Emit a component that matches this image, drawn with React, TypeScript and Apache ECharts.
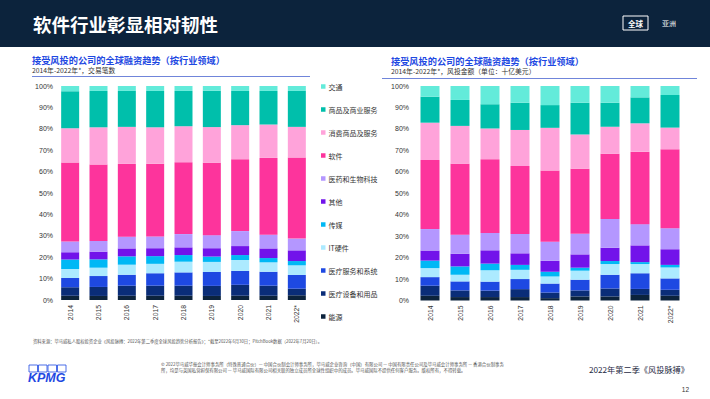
import React, { useEffect, useRef } from "react";
import * as echarts from "echarts";

// ---------- data ----------
const years = ["2014", "2015", "2016", "2017", "2018", "2019", "2020", "2021", "2022*"];
const sectors = ["能源", "医疗设备和用品", "医疗服务和系统", "IT硬件", "传媒", "其他", "医药和生物科技", "软件", "消费商品及服务", "商品及商业服务", "交通"];
const legendOrder = ["交通", "商品及商业服务", "消费商品及服务", "软件", "医药和生物科技", "其他", "传媒", "IT硬件", "医疗服务和系统", "医疗设备和用品", "能源"];
const sectorColors = ["#0c233c", "#0a2d78", "#1e49e2", "#acEAff", "#00b8f5", "#7213ea", "#b497ff", "#fd349c", "#ffa3da", "#00bfab", "#63ebda"];

// deal counts share (%)
const dealsEnergy = [2.0, 1.9, 2.0, 2.0, 2.0, 1.9, 2.0, 2.0, 2.2];
const dealsMedDevices = [3.9, 4.2, 4.7, 4.7, 4.7, 4.7, 5.1, 4.7, 3.1];
const dealsHealthServices = [4.4, 5.1, 5.1, 5.8, 6.2, 6.5, 6.5, 6.5, 6.4];
const dealsITHardware = [4.2, 3.9, 4.7, 4.4, 5.0, 4.7, 5.1, 4.4, 4.5];
const dealsMedia = [4.4, 3.9, 3.9, 3.6, 3.1, 2.5, 2.3, 2.0, 2.0];
const dealsOther = [3.4, 3.6, 3.7, 3.7, 3.6, 3.9, 4.2, 4.5, 5.0];
const dealsPharma = [5.0, 5.0, 5.5, 5.5, 6.2, 6.1, 7.0, 6.4, 5.5];
const dealsSoftware = [36.9, 35.7, 34.0, 34.0, 33.6, 33.8, 33.6, 35.9, 37.9];
const dealsConsumer = [16.0, 17.4, 17.3, 17.0, 16.8, 16.7, 15.9, 15.6, 14.3];
const dealsB2B = [17.3, 17.0, 16.8, 17.0, 16.5, 17.0, 16.0, 15.7, 16.8];
const dealsTransport = [2.5, 2.3, 2.3, 2.3, 2.3, 2.2, 2.3, 2.3, 2.3];

// deal value share (%)
const valueEnergy = [2.2, 1.6, 1.6, 1.6, 1.1, 1.9, 1.9, 2.6, 2.2];
const valueMedDevices = [4.7, 3.1, 3.0, 3.7, 2.6, 2.8, 3.7, 2.8, 2.8];
const valueHealthServices = [4.0, 4.2, 4.2, 4.7, 4.2, 5.0, 6.4, 7.3, 5.3];
const valueITHardware = [4.2, 3.1, 5.3, 4.3, 3.3, 4.2, 5.0, 4.3, 5.1];
const valueMedia = [3.5, 3.9, 3.1, 2.3, 2.2, 1.4, 1.4, 0.9, 1.2];
const valueOther = [4.7, 5.9, 6.2, 5.4, 5.1, 6.2, 6.2, 7.8, 7.3];
const valuePharma = [10.0, 8.9, 8.1, 9.0, 8.9, 9.6, 13.4, 9.9, 9.8];
const valueSoftware = [32.2, 33.0, 34.4, 31.7, 33.2, 30.3, 30.4, 33.8, 36.8];
const valueConsumer = [17.4, 17.7, 14.3, 16.8, 19.9, 16.0, 12.6, 13.2, 10.1];
const valueB2B = [12.1, 12.1, 11.3, 12.7, 10.6, 14.8, 11.2, 12.1, 15.2];
const valueTransport = [5.0, 6.5, 8.5, 7.8, 8.9, 7.8, 7.8, 5.3, 4.2];

const dealsBySector = [dealsEnergy, dealsMedDevices, dealsHealthServices, dealsITHardware, dealsMedia, dealsOther, dealsPharma, dealsSoftware, dealsConsumer, dealsB2B, dealsTransport];
const valueBySector = [valueEnergy, valueMedDevices, valueHealthServices, valueITHardware, valueMedia, valueOther, valuePharma, valueSoftware, valueConsumer, valueB2B, valueTransport];

const NUM_FONT = "'Liberation Sans', Arial, 'Noto Sans CJK SC', sans-serif";
const CJK_FONT = "'Noto Sans CJK SC', 'Liberation Sans', sans-serif";

const pageTitle = "软件行业彰显相对韧性";
const chartTitle = "接受风投的公司的全球融资趋势（按行业领域）";
const leftSubtitle = "2014年-2022年*，交易笔数";
const rightSubtitle = "2014年-2022年*，风投金额（单位：十亿美元）";
const sourceText = "资料来源：毕马威私人股权投资企业《风投脉搏：2022年第二季度全球风投趋势分析报告》；*截至2022年6月30日；PitchBook数据（2022年7月20日）。";
const copyright1 = "© 2022毕马威华振会计师事务所（特殊普通合伙）— 中国合伙制会计师事务所，毕马威企业咨询（中国）有限公司 — 中国有限责任公司及毕马威会计师事务所 — 香港合伙制事务";
const copyright2 = "所，均是与英国私营担保有限公司 — 毕马威国际有限公司相关联的独立成员所全球性组织中的成员。毕马威国际不提供任何客户服务。版权所有，不得转载。";

function makeYAxis(gridIndex: number, margin: number) {
  return {
    type: "value",
    gridIndex,
    min: 0,
    max: 100,
    interval: 10,
    axisLine: { show: false },
    axisTick: { show: false },
    splitLine: { show: false },
    axisLabel: { formatter: "{value}%", fontSize: 7, color: "#333", fontFamily: NUM_FONT, margin },
  };
}

function makeXAxis(gridIndex: number) {
  return {
    type: "category",
    gridIndex,
    data: years,
    axisLine: { show: false },
    axisTick: { show: false },
    axisLabel: { rotate: 90, fontSize: 6.8, color: "#333", fontFamily: NUM_FONT, margin: 5 },
  };
}

function txt(x: number, y: number, text: string, fontSize: number, fill: string, extra: any = {}) {
  return {
    type: "text",
    x,
    y,
    silent: true,
    style: {
      text,
      fill,
      fontSize,
      lineHeight: fontSize,
      fontFamily: CJK_FONT,
      textVerticalAlign: "middle",
      ...extra,
    },
  };
}

export default function App() {
  const ref = useRef<HTMLDivElement>(null);
  useEffect(() => {
    if (!ref.current) return;
    const chart = echarts.init(ref.current, null, { renderer: "svg" });
    const series: any[] = [];
    sectors.forEach((name, i) => {
      series.push({
        type: "bar",
        name,
        stack: "deals",
        xAxisIndex: 0,
        yAxisIndex: 0,
        barWidth: 18,
        data: dealsBySector[i],
        itemStyle: { color: sectorColors[i] },
      });
    });
    sectors.forEach((name, i) => {
      series.push({
        type: "bar",
        name,
        stack: "value",
        xAxisIndex: 1,
        yAxisIndex: 1,
        barWidth: 19,
        data: valueBySector[i],
        itemStyle: { color: sectorColors[i] },
      });
    });

    const logoBoxes = [0, 1, 2, 3].map((k) => ({
      type: "rect",
      silent: true,
      shape: { x: 29 + k * 9.5, y: 365, width: 8.5, height: 7 },
      style: { fill: "none", stroke: "#1e49e2", lineWidth: 0.8 },
    }));

    chart.setOption({
      animation: false,
      backgroundColor: "#ffffff",
      grid: [
        { left: 56, top: 86, width: 255, height: 214 },
        { left: 415, top: 86, width: 270, height: 214.5 },
      ],
      xAxis: [makeXAxis(0), makeXAxis(1)],
      yAxis: [makeYAxis(0, 3), makeYAxis(1, 6)],
      legend: {
        orient: "vertical",
        left: 321,
        top: 82,
        padding: 0,
        itemGap: 14,
        itemWidth: 4.5,
        itemHeight: 4.5,
        icon: "rect",
        selectedMode: false,
        data: legendOrder,
        textStyle: { fontSize: 7, lineHeight: 9, color: "#333", fontFamily: CJK_FONT, padding: [0, 0, 0, -2] },
      },
      series,
      graphic: [
        { type: "rect", silent: true, shape: { x: 0, y: 0, width: 710, height: 47 }, style: { fill: "#0c233c" } },
        txt(33, 24, pageTitle, 18.5, "#ffffff", { fontWeight: "bold" }),
        { type: "rect", silent: true, shape: { x: 623, y: 16, width: 25, height: 14 }, style: { fill: "none", stroke: "#ffffff", lineWidth: 1 } },
        txt(635.5, 23, "全球", 7.5, "#ffffff", { fontWeight: "bold", textAlign: "center" }),
        txt(669, 23, "亚洲", 7, "#ffffff", { textAlign: "center" }),
        // chart titles
        txt(32, 59.5, chartTitle, 9.2, "#1e49e2", { fontWeight: "bold" }),
        txt(32, 70, leftSubtitle, 6.8, "#333"),
        { type: "line", silent: true, shape: { x1: 32, y1: 76.5, x2: 310, y2: 76.5 }, style: { stroke: "#7085da", lineWidth: 1 } },
        txt(391, 60.5, chartTitle, 9.2, "#1e49e2", { fontWeight: "bold" }),
        txt(391, 71, rightSubtitle, 6.8, "#333"),
        { type: "line", silent: true, shape: { x1: 382, y1: 78.5, x2: 697, y2: 78.5 }, style: { stroke: "#7085da", lineWidth: 1 } },
        // footer
        txt(33, 341, sourceText, 4.3, "#555"),
        txt(161, 364, copyright1, 4.4, "#555"),
        txt(161, 370, copyright2, 4.4, "#555"),
        ...logoBoxes,
        txt(28, 378, "KPMG", 12.5, "#1e49e2", { fontWeight: "bold", fontStyle: "italic", fontFamily: NUM_FONT }),
        txt(689, 369, "2022年第二季《风投脉搏》", 8.2, "#1f2a44", { textAlign: "right" }),
        txt(689, 389, "12", 6.5, "#333", { textAlign: "right", fontFamily: NUM_FONT }),
      ],
    } as any);
    return () => chart.dispose();
  }, []);
  return (
    <div
      ref={ref}
      style={{ position: "absolute", left: 0, top: 0, width: 710, height: 399, background: "#fff" }}
    />
  );
}
